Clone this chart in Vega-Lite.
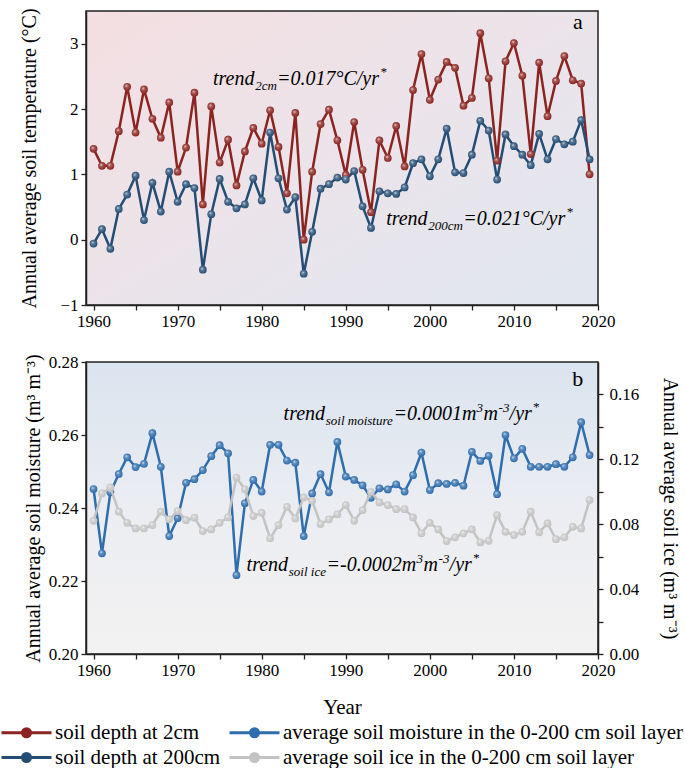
{
  "$schema": "https://vega.github.io/schema/vega-lite/v6.json",
  "padding": {"left": 0, "top": 7, "right": 2, "bottom": 0},
  "datasets": {
    "temp": [
      {"year":1960,"d2":1.39,"d200":-0.06},{"year":1961,"d2":1.13,"d200":0.16},{"year":1962,"d2":1.13,"d200":-0.14},
      {"year":1963,"d2":1.66,"d200":0.47},{"year":1964,"d2":2.34,"d200":0.69},{"year":1965,"d2":1.64,"d200":0.98},
      {"year":1966,"d2":2.30,"d200":0.30},{"year":1967,"d2":1.85,"d200":0.87},{"year":1968,"d2":1.56,"d200":0.43},
      {"year":1969,"d2":2.10,"d200":1.04},{"year":1970,"d2":1.04,"d200":0.58},{"year":1971,"d2":1.41,"d200":0.85},
      {"year":1972,"d2":2.25,"d200":0.79},{"year":1973,"d2":0.54,"d200":-0.46},{"year":1974,"d2":2.04,"d200":0.39},
      {"year":1975,"d2":1.18,"d200":0.93},{"year":1976,"d2":1.53,"d200":0.58},{"year":1977,"d2":0.83,"d200":0.48},
      {"year":1978,"d2":1.35,"d200":0.54},{"year":1979,"d2":1.71,"d200":0.94},{"year":1980,"d2":1.47,"d200":0.60},
      {"year":1981,"d2":1.98,"d200":1.64},{"year":1982,"d2":1.42,"d200":0.94},{"year":1983,"d2":0.71,"d200":0.46},
      {"year":1984,"d2":1.94,"d200":0.65},{"year":1985,"d2":0.00,"d200":-0.52},{"year":1986,"d2":1.04,"d200":0.12},
      {"year":1987,"d2":1.77,"d200":0.78},{"year":1988,"d2":1.99,"d200":0.85},{"year":1989,"d2":1.52,"d200":0.95},
      {"year":1990,"d2":0.99,"d200":0.92},{"year":1991,"d2":1.80,"d200":1.05},{"year":1992,"d2":1.07,"d200":0.51},
      {"year":1993,"d2":0.42,"d200":0.18},{"year":1994,"d2":1.52,"d200":0.74},{"year":1995,"d2":1.25,"d200":0.71},
      {"year":1996,"d2":1.74,"d200":0.70},{"year":1997,"d2":1.12,"d200":0.80},{"year":1998,"d2":2.29,"d200":1.17},
      {"year":1999,"d2":2.84,"d200":1.23},{"year":2000,"d2":2.14,"d200":0.97},{"year":2001,"d2":2.45,"d200":1.23},
      {"year":2002,"d2":2.72,"d200":1.70},{"year":2003,"d2":2.63,"d200":1.03},{"year":2004,"d2":2.05,"d200":1.02},
      {"year":2005,"d2":2.17,"d200":1.30},{"year":2006,"d2":3.16,"d200":1.82},{"year":2007,"d2":2.47,"d200":1.67},
      {"year":2008,"d2":1.21,"d200":0.92},{"year":2009,"d2":2.73,"d200":1.61},{"year":2010,"d2":3.01,"d200":1.43},
      {"year":2011,"d2":2.51,"d200":1.30},{"year":2012,"d2":1.31,"d200":1.14},{"year":2013,"d2":2.71,"d200":1.62},
      {"year":2014,"d2":1.89,"d200":1.23},{"year":2015,"d2":2.43,"d200":1.54},{"year":2016,"d2":2.81,"d200":1.46},
      {"year":2017,"d2":2.44,"d200":1.50},{"year":2018,"d2":2.39,"d200":1.83},{"year":2019,"d2":1.00,"d200":1.23}
    ],
    "soil": [
      {"year":1960,"moist":0.2452,"ice":0.0821},{"year":1961,"moist":0.2276,"ice":0.0990},{"year":1962,"moist":0.2443,"ice":0.1027},
      {"year":1963,"moist":0.2493,"ice":0.0877},{"year":1964,"moist":0.2539,"ice":0.0809},{"year":1965,"moist":0.2512,"ice":0.0774},
      {"year":1966,"moist":0.2521,"ice":0.0774},{"year":1967,"moist":0.2605,"ice":0.0795},{"year":1968,"moist":0.2513,"ice":0.0877},
      {"year":1969,"moist":0.2323,"ice":0.0830},{"year":1970,"moist":0.2372,"ice":0.0881},{"year":1971,"moist":0.2469,"ice":0.0825},
      {"year":1972,"moist":0.2479,"ice":0.0840},{"year":1973,"moist":0.2504,"ice":0.0758},{"year":1974,"moist":0.2542,"ice":0.0768},
      {"year":1975,"moist":0.2572,"ice":0.0809},{"year":1976,"moist":0.2550,"ice":0.0842},{"year":1977,"moist":0.2216,"ice":0.1088},
      {"year":1978,"moist":0.2413,"ice":0.1015},{"year":1979,"moist":0.2477,"ice":0.0850},{"year":1980,"moist":0.2445,"ice":0.0870},
      {"year":1981,"moist":0.2573,"ice":0.0713},{"year":1982,"moist":0.2573,"ice":0.0795},{"year":1983,"moist":0.2530,"ice":0.0907},
      {"year":1984,"moist":0.2524,"ice":0.0836},{"year":1985,"moist":0.2323,"ice":0.0965},{"year":1986,"moist":0.2440,"ice":0.0944},
      {"year":1987,"moist":0.2493,"ice":0.0801},{"year":1988,"moist":0.2443,"ice":0.0830},{"year":1989,"moist":0.2581,"ice":0.0861},
      {"year":1990,"moist":0.2486,"ice":0.0918},{"year":1991,"moist":0.2477,"ice":0.0821},{"year":1992,"moist":0.2462,"ice":0.0887},
      {"year":1993,"moist":0.2428,"ice":0.1000},{"year":1994,"moist":0.2454,"ice":0.0934},{"year":1995,"moist":0.2451,"ice":0.0918},
      {"year":1996,"moist":0.2465,"ice":0.0893},{"year":1997,"moist":0.2445,"ice":0.0893},{"year":1998,"moist":0.2490,"ice":0.0842},
      {"year":1999,"moist":0.2552,"ice":0.0744},{"year":2000,"moist":0.2449,"ice":0.0809},{"year":2001,"moist":0.2468,"ice":0.0768},
      {"year":2002,"moist":0.2466,"ice":0.0696},{"year":2003,"moist":0.2469,"ice":0.0719},{"year":2004,"moist":0.2461,"ice":0.0744},
      {"year":2005,"moist":0.2554,"ice":0.0768},{"year":2006,"moist":0.2529,"ice":0.0688},{"year":2007,"moist":0.2543,"ice":0.0698},
      {"year":2008,"moist":0.2438,"ice":0.0856},{"year":2009,"moist":0.2600,"ice":0.0753},{"year":2010,"moist":0.2536,"ice":0.0733},
      {"year":2011,"moist":0.2562,"ice":0.0753},{"year":2012,"moist":0.2513,"ice":0.0877},{"year":2013,"moist":0.2513,"ice":0.0750},
      {"year":2014,"moist":0.2513,"ice":0.0805},{"year":2015,"moist":0.2520,"ice":0.0708},{"year":2016,"moist":0.2513,"ice":0.0719},
      {"year":2017,"moist":0.2539,"ice":0.0784},{"year":2018,"moist":0.2635,"ice":0.0774},{"year":2019,"moist":0.2545,"ice":0.0949}
    ],
    "one": [{}]
  },
  "vconcat": [
    {
      "width": 512,
      "height": 294,
      "view": {"fill": {"gradient": "linear", "x1": 0, "y1": 0, "x2": 1, "y2": 1, "stops": [{"offset": 0, "color": "#f3dee1"}, {"offset": 0.5, "color": "#ebe4ea"}, {"offset": 1, "color": "#e1e7f0"}]}},
      "layer": [
        {
          "data": {"name": "temp"},
          "transform": [{"fold": ["d2", "d200"], "as": ["series", "value"]}],
          "layer": [
            {"mark": {"type": "line", "strokeWidth": 2.5}},
            {"mark": {"type": "point", "filled": true, "size": 60, "opacity": 1}},
            {"mark": {"type": "point", "filled": true, "size": 60, "opacity": 1, "stroke": null, "fill": {"gradient": "radial", "x1": 0.38, "y1": 0.35, "r1": 0, "x2": 0.45, "y2": 0.45, "r2": 0.55, "stops": [{"offset": 0, "color": "rgba(255,255,255,0.85)"}, {"offset": 0.35, "color": "rgba(255,255,255,0.25)"}, {"offset": 1, "color": "rgba(255,255,255,0)"}]}}, "encoding": {"color": null}}
          ],
          "encoding": {
            "x": {"field": "year", "type": "quantitative", "scale": {"domain": [1959.1, 2020], "nice": false, "zero": false},
                  "axis": {"title": null, "values": [1960,1965,1970,1975,1980,1985,1990,1995,2000,2005,2010,2015,2020], "labelExpr": "datum.value % 10 === 0 ? datum.label : ''", "format": "d"}},
            "y": {"field": "value", "type": "quantitative", "scale": {"domain": [-1, 3.5], "nice": false, "zero": false},
                  "axis": {"title": "Annual average soil temperature (°C)", "values": [-1,-0.5,0,0.5,1,1.5,2,2.5,3,3.5], "labelExpr": "datum.value % 1 === 0 ? format(datum.value, 'd') : ''", "titlePadding": 20}},
            "color": {"field": "series", "type": "nominal",
                      "scale": {"domain": ["d2", "moist", "d200", "ice"], "range": ["#8b2420", "#2f6dac", "#254d73", "#c3c3c3"]},
                      "legend": {"title": null, "orient": "none", "legendX": -86, "legendY": 710, "direction": "horizontal", "columns": 2,
                                 "labelExpr": "datum.value == 'd2' ? 'soil depth at 2cm' : datum.value == 'd200' ? 'soil depth at 200cm' : datum.value == 'moist' ? 'average soil moisture in the 0-200 cm soil layer' : 'average soil ice in the 0-200 cm soil layer'"}}
          }
        },
        {"data": {"name": "one"}, "mark": {"type": "text", "text": "a", "fontSize": 22, "align": "center", "baseline": "alphabetic"},
         "encoding": {"x": {"datum": 2017.6}, "y": {"datum": 3.23}}},
        {"data": {"name": "one"}, "mark": {"type": "text", "text": "trend", "fontSize": 20, "fontStyle": "italic", "align": "left", "baseline": "alphabetic"},
         "encoding": {"x": {"datum": 1974.2}, "y": {"datum": 2.36}}},
        {"data": {"name": "one"}, "mark": {"type": "text", "text": "2cm", "fontSize": 13, "fontStyle": "italic", "align": "left", "baseline": "alphabetic", "dx": 42.2, "dy": 5},
         "encoding": {"x": {"datum": 1974.2}, "y": {"datum": 2.36}}},
        {"data": {"name": "one"}, "mark": {"type": "text", "text": "=0.017°C/yr", "fontSize": 20, "fontStyle": "italic", "align": "left", "baseline": "alphabetic", "dx": 64},
         "encoding": {"x": {"datum": 1974.2}, "y": {"datum": 2.36}}},
        {"data": {"name": "one"}, "mark": {"type": "text", "text": "*", "fontSize": 13, "fontStyle": "italic", "align": "left", "baseline": "alphabetic", "dx": 167, "dy": -9},
         "encoding": {"x": {"datum": 1974.2}, "y": {"datum": 2.36}}},
        {"data": {"name": "one"}, "mark": {"type": "text", "text": "trend", "fontSize": 20, "fontStyle": "italic", "align": "left", "baseline": "alphabetic"},
         "encoding": {"x": {"datum": 1994.8}, "y": {"datum": 0.22}}},
        {"data": {"name": "one"}, "mark": {"type": "text", "text": "200cm", "fontSize": 13, "fontStyle": "italic", "align": "left", "baseline": "alphabetic", "dx": 42.2, "dy": 5},
         "encoding": {"x": {"datum": 1994.8}, "y": {"datum": 0.22}}},
        {"data": {"name": "one"}, "mark": {"type": "text", "text": "=0.021°C/yr", "fontSize": 20, "fontStyle": "italic", "align": "left", "baseline": "alphabetic", "dx": 77},
         "encoding": {"x": {"datum": 1994.8}, "y": {"datum": 0.22}}},
        {"data": {"name": "one"}, "mark": {"type": "text", "text": "*", "fontSize": 13, "fontStyle": "italic", "align": "left", "baseline": "alphabetic", "dx": 180, "dy": -9},
         "encoding": {"x": {"datum": 1994.8}, "y": {"datum": 0.22}}}
      ]
    },
    {
      "width": 512,
      "height": 292,
      "view": {"fill": {"gradient": "linear", "x1": 0, "y1": 0, "x2": 0, "y2": 1, "stops": [{"offset": 0, "color": "#dae4ef"}, {"offset": 0.5, "color": "#ebedf2"}, {"offset": 1, "color": "#f3f2f2"}]}},
      "layer": [
        {
          "layer": [
            {
              "data": {"name": "soil"},
              "transform": [{"fold": ["moist"], "as": ["series", "value"]}],
              "layer": [
                {"mark": {"type": "line", "strokeWidth": 2.5}},
                {"mark": {"type": "point", "filled": true, "size": 60, "opacity": 1}},
                {"mark": {"type": "point", "filled": true, "size": 60, "opacity": 1, "stroke": null, "fill": {"gradient": "radial", "x1": 0.38, "y1": 0.35, "r1": 0, "x2": 0.45, "y2": 0.45, "r2": 0.55, "stops": [{"offset": 0, "color": "rgba(255,255,255,0.85)"}, {"offset": 0.35, "color": "rgba(255,255,255,0.25)"}, {"offset": 1, "color": "rgba(255,255,255,0)"}]}}, "encoding": {"color": null}}
              ],
              "encoding": {
                "x": {"field": "year", "type": "quantitative", "scale": {"domain": [1959.1, 2020], "nice": false, "zero": false},
                      "axis": {"title": "Year", "titlePadding": 18, "titleFontSize": 21, "values": [1960,1965,1970,1975,1980,1985,1990,1995,2000,2005,2010,2015,2020], "labelExpr": "datum.value % 10 === 0 ? datum.label : ''", "format": "d"}},
                "y": {"field": "value", "type": "quantitative", "scale": {"domain": [0.2, 0.28], "nice": false, "zero": false},
                      "axis": {"title": "Annual average soil moisture (m³ m⁻³)", "orient": "left", "values": [0.2,0.21,0.22,0.23,0.24,0.25,0.26,0.27,0.28], "labelExpr": "round(datum.value*100) % 2 === 0 ? format(datum.value, '.2f') : ''", "titlePadding": 5}},
                "color": {"field": "series", "type": "nominal"}
              }
            },
            {"data": {"name": "one"}, "mark": {"type": "text", "text": "b", "fontSize": 22, "align": "center", "baseline": "alphabetic"},
             "encoding": {"x": {"datum": 2017.6}, "y": {"datum": 0.2734}}},
            {"data": {"name": "one"}, "mark": {"type": "text", "text": "trend", "fontSize": 20, "fontStyle": "italic", "align": "left", "baseline": "alphabetic"},
             "encoding": {"x": {"datum": 1982.6}, "y": {"datum": 0.2641}}},
            {"data": {"name": "one"}, "mark": {"type": "text", "text": "soil moisture", "fontSize": 13, "fontStyle": "italic", "align": "left", "baseline": "alphabetic", "dx": 42.2, "dy": 5},
             "encoding": {"x": {"datum": 1982.6}, "y": {"datum": 0.2641}}},
            {"data": {"name": "one"}, "mark": {"type": "text", "text": "=0.0001m", "fontSize": 20, "fontStyle": "italic", "align": "left", "baseline": "alphabetic", "dx": 110},
             "encoding": {"x": {"datum": 1982.6}, "y": {"datum": 0.2641}}},
            {"data": {"name": "one"}, "mark": {"type": "text", "text": "3", "fontSize": 13, "fontStyle": "italic", "align": "left", "baseline": "alphabetic", "dx": 193, "dy": -8},
             "encoding": {"x": {"datum": 1982.6}, "y": {"datum": 0.2641}}},
            {"data": {"name": "one"}, "mark": {"type": "text", "text": "m", "fontSize": 20, "fontStyle": "italic", "align": "left", "baseline": "alphabetic", "dx": 200},
             "encoding": {"x": {"datum": 1982.6}, "y": {"datum": 0.2641}}},
            {"data": {"name": "one"}, "mark": {"type": "text", "text": "-3", "fontSize": 13, "fontStyle": "italic", "align": "left", "baseline": "alphabetic", "dx": 215, "dy": -8},
             "encoding": {"x": {"datum": 1982.6}, "y": {"datum": 0.2641}}},
            {"data": {"name": "one"}, "mark": {"type": "text", "text": "/yr", "fontSize": 20, "fontStyle": "italic", "align": "left", "baseline": "alphabetic", "dx": 226},
             "encoding": {"x": {"datum": 1982.6}, "y": {"datum": 0.2641}}},
            {"data": {"name": "one"}, "mark": {"type": "text", "text": "*", "fontSize": 13, "fontStyle": "italic", "align": "left", "baseline": "alphabetic", "dx": 249, "dy": -9},
             "encoding": {"x": {"datum": 1982.6}, "y": {"datum": 0.2641}}},
            {"data": {"name": "one"}, "mark": {"type": "text", "text": "trend", "fontSize": 20, "fontStyle": "italic", "align": "left", "baseline": "alphabetic"},
             "encoding": {"x": {"datum": 1978.2}, "y": {"datum": 0.2228}}},
            {"data": {"name": "one"}, "mark": {"type": "text", "text": "soil ice", "fontSize": 13, "fontStyle": "italic", "align": "left", "baseline": "alphabetic", "dx": 42.2, "dy": 5},
             "encoding": {"x": {"datum": 1978.2}, "y": {"datum": 0.2228}}},
            {"data": {"name": "one"}, "mark": {"type": "text", "text": "=-0.0002m", "fontSize": 20, "fontStyle": "italic", "align": "left", "baseline": "alphabetic", "dx": 80},
             "encoding": {"x": {"datum": 1978.2}, "y": {"datum": 0.2228}}},
            {"data": {"name": "one"}, "mark": {"type": "text", "text": "3", "fontSize": 13, "fontStyle": "italic", "align": "left", "baseline": "alphabetic", "dx": 170, "dy": -8},
             "encoding": {"x": {"datum": 1978.2}, "y": {"datum": 0.2228}}},
            {"data": {"name": "one"}, "mark": {"type": "text", "text": "m", "fontSize": 20, "fontStyle": "italic", "align": "left", "baseline": "alphabetic", "dx": 177},
             "encoding": {"x": {"datum": 1978.2}, "y": {"datum": 0.2228}}},
            {"data": {"name": "one"}, "mark": {"type": "text", "text": "-3", "fontSize": 13, "fontStyle": "italic", "align": "left", "baseline": "alphabetic", "dx": 192, "dy": -8},
             "encoding": {"x": {"datum": 1978.2}, "y": {"datum": 0.2228}}},
            {"data": {"name": "one"}, "mark": {"type": "text", "text": "/yr", "fontSize": 20, "fontStyle": "italic", "align": "left", "baseline": "alphabetic", "dx": 203},
             "encoding": {"x": {"datum": 1978.2}, "y": {"datum": 0.2228}}},
            {"data": {"name": "one"}, "mark": {"type": "text", "text": "*", "fontSize": 13, "fontStyle": "italic", "align": "left", "baseline": "alphabetic", "dx": 226, "dy": -9},
             "encoding": {"x": {"datum": 1978.2}, "y": {"datum": 0.2228}}}
          ]
        },
        {
          "data": {"name": "soil"},
          "transform": [{"fold": ["ice"], "as": ["series", "value"]}],
          "layer": [
            {"mark": {"type": "line", "strokeWidth": 2.5}},
            {"mark": {"type": "point", "filled": true, "size": 60, "opacity": 1}},
            {"mark": {"type": "point", "filled": true, "size": 60, "opacity": 1, "stroke": null, "fill": {"gradient": "radial", "x1": 0.38, "y1": 0.35, "r1": 0, "x2": 0.45, "y2": 0.45, "r2": 0.55, "stops": [{"offset": 0, "color": "rgba(255,255,255,0.85)"}, {"offset": 0.35, "color": "rgba(255,255,255,0.25)"}, {"offset": 1, "color": "rgba(255,255,255,0)"}]}}, "encoding": {"color": null}}
          ],
          "encoding": {
            "x": {"field": "year", "type": "quantitative", "scale": {"domain": [1959.1, 2020], "nice": false, "zero": false}},
            "y": {"field": "value", "type": "quantitative", "scale": {"domain": [0, 0.18], "nice": false, "zero": false},
                  "axis": {"title": "Annual average soil ice (m³ m⁻³)", "orient": "right", "values": [0,0.02,0.04,0.06,0.08,0.1,0.12,0.14,0.16], "labelExpr": "round(datum.value*100) % 4 === 0 ? format(datum.value, '.2f') : ''", "labelPadding": 6, "titlePadding": 21}},
            "color": {"field": "series", "type": "nominal"}
          }
        }
      ],
      "resolve": {"scale": {"y": "independent"}}
    }
  ],
  "spacing": 22,
  "config": {
    "font": "Liberation Serif",
    "view": {"stroke": "#222222", "strokeWidth": 1.5},
    "axis": {"labelFontSize": 17, "titleFontSize": 20, "titleFontWeight": "normal", "labelColor": "black", "titleColor": "black",
             "domainColor": "#222222", "tickColor": "#222222", "domainWidth": 1.5, "tickWidth": 1.3, "tickSize": 5, "grid": false,
             "labelPadding": 3, "labelFlush": false, "labelOverlap": false, "labelFont": "Liberation Serif", "titleFont": "Liberation Serif"},
    "legend": {"labelFontSize": 21, "labelFont": "Liberation Serif", "labelColor": "black",
               "symbolType": "M-1,0H1.1M1.9,0H4M1.1,0A0.4,0.4,0,1,1,1.9,0A0.4,0.4,0,1,1,1.1,0Z",
               "symbolSize": 400, "symbolStrokeWidth": 3, "labelOffset": 32, "rowPadding": 3, "columnPadding": 2, "padding": 0,
               "labelLimit": 500}
  }
}
